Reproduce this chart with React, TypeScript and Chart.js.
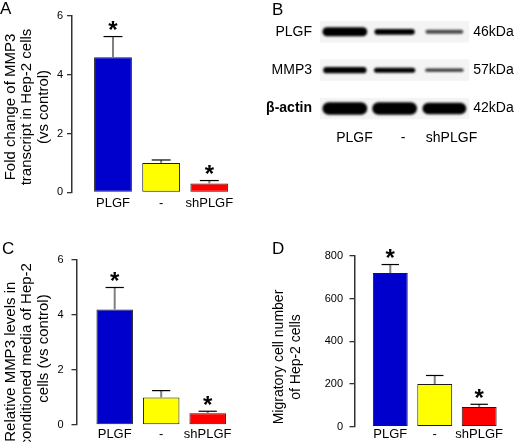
import React, { useEffect, useRef } from "react";
import { Chart, registerables } from "chart.js";

Chart.register(...registerables);

// ---------- data ----------
const categories = ["PLGF", "-", "shPLGF"];
const transcriptMean = [4.6, 1.0, 0.3];
const transcriptSem = [0.7, 0.1, 0.1];
const mediaMean = [4.2, 1.0, 0.43];
const mediaSem = [0.8, 0.25, 0.07];
const migratoryMean = [720, 200, 92];
const migratorySem = [40, 40, 13];
const significant = [true, false, true];
const barColors = ["#0000CC", "#FFFF00", "#FF0000"];

const blotRows = ["PLGF", "MMP3", "β-actin"];
const blotMarkers = ["46kDa", "57kDa", "42kDa"];
const plgfBands = [1.0, 0.55, 0.3];
const mmp3Bands = [0.85, 0.65, 0.35];
const actinBands = [1.0, 1.0, 0.9];

const FONT = "'Liberation Sans', Arial, Helvetica, sans-serif";
Chart.defaults.font.family = FONT;
Chart.defaults.color = "#000";

// ---------- plugins ----------
const panelLetterPlugin = {
  id: "panelLetter",
  afterDraw(chart: any, _a: any, opts: any) {
    if (!opts || !opts.text) return;
    const ctx = chart.ctx;
    ctx.save();
    ctx.font = `${opts.size}px ${FONT}`;
    ctx.fillStyle = "#000";
    ctx.textAlign = "left";
    ctx.textBaseline = "alphabetic";
    ctx.fillText(opts.text, opts.x, opts.y);
    ctx.restore();
  },
};

const yTitlePlugin = {
  id: "yTitle",
  afterDraw(chart: any, _a: any, opts: any) {
    if (!opts || !opts.lines) return;
    const ctx = chart.ctx;
    opts.lines.forEach((line: string, i: number) => {
      const cy = Array.isArray(opts.cy) ? opts.cy[i] : opts.cy;
      ctx.save();
      ctx.translate(opts.x0 + i * opts.gap, cy);
      ctx.rotate(-Math.PI / 2);
      ctx.font = `${opts.size}px ${FONT}`;
      ctx.fillStyle = "#000";
      ctx.textAlign = "center";
      ctx.textBaseline = "middle";
      ctx.fillText(line, 0, 0);
      ctx.restore();
    });
  },
};

const errorBarPlugin = {
  id: "errorBars",
  afterDatasetsDraw(chart: any, _a: any, opts: any) {
    if (!opts || !opts.errors) return;
    const ctx = chart.ctx;
    const meta = chart.getDatasetMeta(0);
    const ys = chart.scales.y;
    const ds = chart.data.datasets[0];
    meta.data.forEach((bar: any, i: number) => {
      const mean = ds.data[i].y;
      const yTop = ys.getPixelForValue(mean + opts.errors[i]);
      const x = bar.x;
      const w = bar.width;
      ctx.save();
      ctx.strokeStyle = "#808080";
      ctx.lineWidth = 2;
      ctx.beginPath();
      ctx.moveTo(x, bar.y);
      ctx.lineTo(x, yTop);
      ctx.stroke();
      ctx.strokeStyle = "#000";
      ctx.lineWidth = 1.2;
      ctx.beginPath();
      ctx.moveTo(x - w / 4, yTop);
      ctx.lineTo(x + w / 4, yTop);
      ctx.stroke();
      if (opts.flags[i]) {
        ctx.font = `bold ${opts.starSize}px ${FONT}`;
        ctx.fillStyle = "#000";
        ctx.textAlign = "center";
        ctx.textBaseline = "alphabetic";
        const m = ctx.measureText("*");
        const yc = yTop - opts.starGap;
        const base = yc + (m.actualBoundingBoxAscent - m.actualBoundingBoxDescent) / 2;
        ctx.fillText("*", x, base);
      }
      ctx.restore();
    });
  },
};

const blotPlugin = {
  id: "blot",
  beforeDatasetsDraw(chart: any, _a: any, opts: any) {
    if (!opts || !opts.rowHeights) return;
    const ctx = chart.ctx;
    const meta = chart.getDatasetMeta(0);
    const xs = chart.scales.x;
    const ys = chart.scales.y;
    const ca = chart.chartArea;
    const lane = xs.getPixelForValue(1) - xs.getPixelForValue(0);
    const rowGap = ys.getPixelForValue(1) - ys.getPixelForValue(0);
    ctx.save();
    ctx.fillStyle = "#f4f4f4";
    blotRows.forEach((_r, r) => {
      const yc = ys.getPixelForValue(r);
      ctx.fillRect(ca.left, yc - 0.28 * rowGap, ca.right - ca.left, 0.56 * rowGap);
    });
    ctx.filter = "blur(0.8px)";
    const data = chart.data.datasets[0].data;
    meta.data.forEach((pt: any, i: number) => {
      const raw = data[i];
      const t = raw.v;
      const h = opts.rowHeights[raw.y] * (0.2 + 0.8 * t);
      const w = lane * (0.7 + 0.2 * t);
      ctx.fillStyle = `rgba(0,0,0,${Math.min(1, 0.25 + 1.5 * t)})`;
      ctx.beginPath();
      ctx.roundRect(pt.x - w / 2, pt.y - h / 2, w, h, h / 2);
      ctx.fill();
    });
    ctx.restore();
  },
};

const plugins = [panelLetterPlugin, yTitlePlugin, errorBarPlugin, blotPlugin];

// ---------- configs ----------
function barConfig(p: any): any {
  return {
    type: "bar",
    data: {
      datasets: [
        {
          data: p.means.map((v: number, i: number) => ({ x: i, y: v })),
          backgroundColor: barColors,
          borderColor: "#1a1a1a",
          borderWidth: 1,
          borderSkipped: false,
          barPercentage: 0.785,
          categoryPercentage: 1,
        },
      ],
    },
    plugins,
    options: {
      animation: false,
      responsive: false,
      events: [],
      layout: { padding: { top: p.top, right: p.padRight, left: 0, bottom: 0 } },
      plugins: {
        legend: { display: false },
        tooltip: { enabled: false },
        panelLetter: p.letter,
        yTitle: p.title,
        errorBars: { errors: p.errors, flags: significant, starSize: 24, starGap: 11 },
      },
      scales: {
        x: {
          type: "linear",
          min: p.xMin,
          max: 2.5,
          offset: false,
          grid: { display: false, drawTicks: false },
          border: { display: false },
          afterBuildTicks: (s: any) => {
            s.ticks = categories.map((_c, i) => ({ value: i }));
          },
          afterFit: (s: any) => {
            s.height = p.xHeight;
          },
          ticks: {
            padding: p.xPad,
            autoSkip: false,
            maxRotation: 0,
            color: "#000",
            font: { family: FONT, size: 13 },
            callback: (_v: any, i: number) => categories[i],
          },
        },
        y: {
          type: "linear",
          min: 0,
          max: p.yMax,
          afterFit: (s: any) => {
            s.width = p.yWidth;
          },
          ticks: {
            stepSize: p.yStep,
            padding: p.yPad,
            color: "#000",
            font: { family: FONT, size: 11 },
          },
          grid: { drawOnChartArea: false, drawTicks: true, tickLength: 5, color: "#333", lineWidth: 1.3 },
          border: { display: true, color: "#333", width: 1.5 },
        },
      },
    },
  };
}

function blotConfig(): any {
  const bandSets = [plgfBands, mmp3Bands, actinBands];
  const points: any[] = [];
  bandSets.forEach((row, r) => row.forEach((v, l) => points.push({ x: l, y: r, v })));
  const fixTicks = (s: any) => {
    s.ticks = [0, 1, 2].map((value) => ({ value }));
  };
  return {
    type: "scatter",
    data: { datasets: [{ data: points, pointRadius: 0, pointHoverRadius: 0 }] },
    plugins,
    options: {
      animation: false,
      responsive: false,
      events: [],
      layout: { padding: { top: 15, left: 0, right: 0, bottom: 0 } },
      plugins: {
        legend: { display: false },
        tooltip: { enabled: false },
        panelLetter: { text: "B", x: 12, y: 15, size: 17 },
        blot: { rowHeights: [9, 7, 12.5] },
      },
      scales: {
        x: { type: "linear", min: -0.5, max: 2.5, display: false },
        x2: {
          type: "linear",
          position: "bottom",
          min: -0.7115,
          max: 2.3658,
          grid: { display: false, drawTicks: false },
          border: { display: false },
          afterBuildTicks: fixTicks,
          afterFit: (s: any) => {
            s.height = 97.1;
          },
          ticks: {
            padding: 6,
            autoSkip: false,
            maxRotation: 0,
            color: "#000",
            font: { family: FONT, size: 14 },
            callback: (_v: any, i: number) => categories[i],
          },
        },
        y: {
          type: "linear",
          position: "left",
          reverse: true,
          min: -0.4,
          max: 2.4,
          grid: { display: false, drawTicks: false },
          border: { display: false },
          afterBuildTicks: fixTicks,
          afterFit: (s: any) => {
            s.width = 60;
          },
          ticks: {
            padding: 8,
            color: "#000",
            font: (c: any) => ({ family: FONT, size: 14, weight: c.index === 2 ? "bold" : "normal" }),
            callback: (_v: any, i: number) => blotRows[i],
          },
        },
        y2: {
          type: "linear",
          position: "right",
          reverse: true,
          min: -0.4,
          max: 2.4,
          grid: { display: false, drawTicks: false },
          border: { display: false },
          afterBuildTicks: fixTicks,
          afterFit: (s: any) => {
            s.width = 49.75;
          },
          ticks: {
            padding: 4,
            color: "#000",
            font: { family: FONT, size: 14 },
            callback: (_v: any, i: number) => blotMarkers[i],
          },
        },
      },
    },
  };
}

const configA = () =>
  barConfig({
    means: transcriptMean,
    errors: transcriptSem,
    top: 16,
    padRight: 26.6,
    xMin: -0.851,
    xHeight: 28.7,
    xPad: 3.7,
    yWidth: 72,
    yPad: 4,
    yMax: 6,
    yStep: 2,
    letter: { text: "A", x: 0, y: 13.5, size: 17 },
    title: {
      lines: ["Fold change of MMP3", "transcript in Hep-2 cells", "(vs control)"],
      size: 15,
      x0: 11,
      gap: 16.3,
      cy: 107,
    },
  });

const configC = () =>
  barConfig({
    means: mediaMean,
    errors: mediaSem,
    top: 39,
    padRight: 29.05,
    xMin: -0.8215,
    xHeight: 17,
    xPad: 1.5,
    yWidth: 76.5,
    yPad: 8,
    yMax: 6,
    yStep: 2,
    letter: { text: "C", x: 2, y: 32.5, size: 17 },
    title: {
      lines: ["Relative MMP3 levels in", "conditioned media of Hep-2", "cells (vs control)"],
      size: 15,
      x0: 11,
      gap: 16.3,
      cy: [140.7, 133.8, 127.5],
    },
  });

const configD = () =>
  barConfig({
    means: migratoryMean,
    errors: migratorySem,
    top: 35,
    padRight: 17.6,
    xMin: -0.8054,
    xHeight: 15.3,
    xPad: 0,
    yWidth: 94.5,
    yPad: 6.5,
    yMax: 800,
    yStep: 200,
    letter: { text: "D", x: 12, y: 32.5, size: 17 },
    title: {
      lines: ["Migratory cell number", "of Hep-2 cells"],
      size: 14,
      x0: 19.5,
      gap: 16.5,
      cy: 136,
    },
  });

// ---------- components ----------
function ChartCanvas(props: { make: () => any; left: number; top: number; width: number; height: number }) {
  const ref = useRef<HTMLCanvasElement>(null);
  useEffect(() => {
    const chart = new Chart(ref.current as HTMLCanvasElement, props.make());
    return () => chart.destroy();
  }, []);
  return (
    <canvas
      ref={ref}
      width={props.width}
      height={props.height}
      style={{ position: "absolute", left: props.left, top: props.top, width: props.width, height: props.height }}
    />
  );
}

export default function App() {
  return (
    <div
      style={{
        position: "absolute",
        left: 0,
        top: 0,
        width: 519,
        height: 442,
        background: "#fff",
        overflow: "hidden",
      }}
    >
      <ChartCanvas make={configA} left={0} top={0} width={260} height={221} />
      <ChartCanvas make={blotConfig} left={260} top={0} width={259} height={221} />
      <ChartCanvas make={configC} left={0} top={221} width={260} height={221} />
      <ChartCanvas make={configD} left={260} top={221} width={259} height={221} />
    </div>
  );
}
